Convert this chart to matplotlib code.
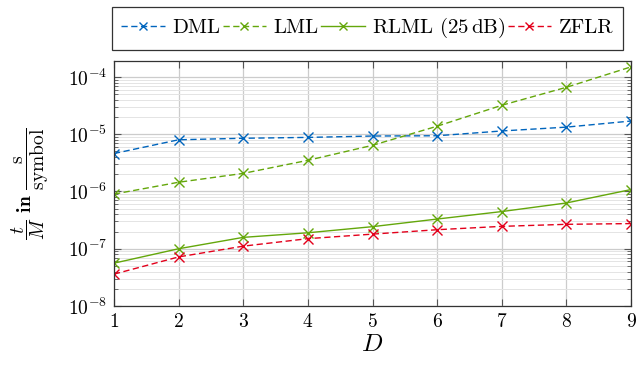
import matplotlib
matplotlib.use("Agg")
import matplotlib.pyplot as plt
from matplotlib.ticker import LogLocator, NullFormatter

plt.rcParams["font.family"] = "serif"
plt.rcParams["font.serif"] = ["cmr10", "DejaVu Serif"]
plt.rcParams["mathtext.fontset"] = "cm"
plt.rcParams["axes.formatter.use_mathtext"] = True

D = [1, 2, 3, 4, 5, 6, 7, 8, 9]
dml   = [4.6e-6, 8.0e-6, 8.5e-6, 8.8e-6, 9.3e-6, 9.4e-6, 1.14e-5, 1.33e-5, 1.7e-5]
lml   = [9.0e-7, 1.45e-6, 2.07e-6, 3.5e-6, 6.4e-6, 1.38e-5, 3.2e-5, 6.6e-5, 1.5e-4]
rlml  = [5.6e-8, 1.0e-7, 1.58e-7, 1.9e-7, 2.43e-7, 3.3e-7, 4.46e-7, 6.3e-7, 1.08e-6]
zflr  = [3.6e-8, 7.2e-8, 1.11e-7, 1.5e-7, 1.8e-7, 2.15e-7, 2.46e-7, 2.67e-7, 2.75e-7]

BLUE  = "#0065BD"
GREEN = "#64A70B"
RED   = "#E3001B"
DASH  = (0, (4.5, 2.5))

fig = plt.figure(figsize=(6.37, 3.65), dpi=100)
ax = fig.add_axes([114 / 637, 59 / 365, 517 / 637, 245 / 365])

style = dict(lw=1.0, marker="x", ms=7, mew=1.0)
ax.plot(D, dml, color=BLUE, ls=DASH, label=r"DML", **style)
ax.plot(D, lml, color=GREEN, ls=DASH, label=r"LML", **style)
ax.plot(D, rlml, color=GREEN, ls="-", label=r"RLML (25$\,$dB)", **style)
ax.plot(D, zflr, color=RED, ls=DASH, label=r"ZFLR", **style)

ax.set_yscale("log")
ax.set_xlim(1, 9)
ax.set_ylim(1e-8, 1.9e-4)
ax.set_xticks(D)
ax.yaxis.set_major_locator(LogLocator(base=10, numticks=10))
ax.yaxis.set_minor_locator(LogLocator(base=10, subs=range(2, 10), numticks=100))
ax.yaxis.set_minor_formatter(NullFormatter())

ax.grid(True, which="major", color="#cccccc", lw=0.9)
ax.grid(True, which="minor", axis="y", color="#e4e4e4", lw=0.7)
ax.set_axisbelow(True)
ax.tick_params(which="both", direction="in", top=True, right=True,
               labelsize=14, colors="#555555", labelcolor="black")
ax.tick_params(which="major", length=5, pad=5)
ax.tick_params(which="minor", length=3)
for s in ax.spines.values():
    s.set_color("#333333")
    s.set_linewidth(0.9)

ax.set_xlabel(r"$D$", fontsize=18, labelpad=2)
ax.set_ylabel(r"$\dfrac{t}{M}$ $\mathbf{in}$ $\dfrac{\mathrm{s}}{\mathrm{symbol}}$",
              fontsize=14, labelpad=12)

leg = fig.legend(loc="upper left", bbox_to_anchor=(112 / 637, 1 - 7 / 365),
                 ncol=4, fontsize=15, frameon=True, fancybox=False,
                 edgecolor="black", handlelength=2.1, handletextpad=0.35,
                 columnspacing=0.1, borderpad=0.45, borderaxespad=0,
                 markerscale=0.8)
leg.get_frame().set_linewidth(0.9)

fig.savefig("out.png", dpi=100)
